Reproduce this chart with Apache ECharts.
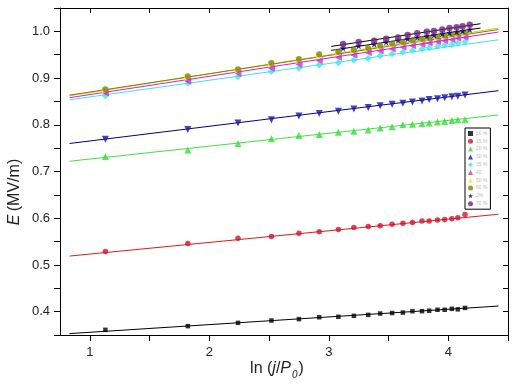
<!DOCTYPE html>
<html>
<head>
<meta charset="utf-8">
<script src="https://cdn.jsdelivr.net/npm/echarts@6/dist/echarts.min.js"></script>
<style>
html,body{margin:0;padding:0;background:#fff;}
#chart{width:516px;height:383px;}
</style>
</head>
<body>
<div id="chart"></div>
<script>
// ---- data ----
var xFull = [1.13, 1.82, 2.24, 2.52, 2.75, 2.92, 3.08, 3.21, 3.33, 3.43, 3.53, 3.62, 3.70, 3.78, 3.84, 3.91, 3.97, 4.03, 4.08, 4.14];
var xTop = [3.12, 3.25, 3.38, 3.48, 3.58, 3.66, 3.74, 3.82, 3.88, 3.95, 4.01, 4.07, 4.12, 4.18];

var sBlack   = [0.361, 0.369, 0.376, 0.381, 0.384, 0.388, 0.389, 0.391, 0.393, 0.396, 0.397, 0.398, 0.401, 0.401, 0.402, 0.404, 0.404, 0.406, 0.405, 0.408];
var sRed     = [0.529, 0.546, 0.557, 0.561, 0.568, 0.571, 0.576, 0.580, 0.582, 0.584, 0.587, 0.589, 0.591, 0.594, 0.594, 0.596, 0.597, 0.599, 0.601, 0.608];
var sGreen   = [0.732, 0.746, 0.760, 0.770, 0.777, 0.779, 0.784, 0.786, 0.789, 0.793, 0.796, 0.800, 0.801, 0.802, 0.804, 0.806, 0.807, 0.809, 0.811, 0.811];
var sBlue    = [0.769, 0.790, 0.804, 0.811, 0.819, 0.824, 0.829, 0.834, 0.837, 0.841, 0.844, 0.846, 0.849, 0.851, 0.854, 0.856, 0.858, 0.860, 0.861, 0.864];
var sCyan    = [0.862, 0.889, 0.903, 0.914, 0.921, 0.928, 0.933, 0.938, 0.942, 0.948, 0.952, 0.956, 0.959, 0.962, 0.965, 0.968, 0.970, 0.972, 0.975, 0.977];
var sMagenta = [0.868, 0.893, 0.910, 0.921, 0.929, 0.937, 0.944, 0.949, 0.954, 0.958, 0.962, 0.966, 0.969, 0.972, 0.975, 0.978, 0.980, 0.982, 0.985, 0.987];
var sYellow  = [0.874, 0.902, 0.917, 0.930, 0.939, 0.948, 0.954, 0.958, 0.962, 0.967, 0.971, 0.975, 0.979, 0.982, 0.984, 0.987, 0.989, 0.992, 0.994, 0.996];
var sOlive   = [0.876, 0.904, 0.919, 0.932, 0.941, 0.951, 0.956, 0.960, 0.964, 0.969, 0.974, 0.977, 0.981, 0.984, 0.986, 0.989, 0.991, 0.994, 0.996, 0.998];
var sNavy    = [0.964, 0.969, 0.973, 0.977, 0.981, 0.984, 0.987, 0.990, 0.992, 0.995, 0.997, 0.999, 1.001, 1.004];
var sPurple  = [0.973, 0.977, 0.980, 0.984, 0.987, 0.992, 0.996, 0.999, 1.001, 1.004, 1.007, 1.009, 1.011, 1.014];

// linear fits: [x start, x end] and [E start, E end]
var fitXFull = [0.83, 4.42];
var fitXTop = [3.02, 4.27];
var fitBlack   = [0.353, 0.412];
var fitRed     = [0.519, 0.6085];
var fitGreen   = [0.722, 0.821];
var fitBlue    = [0.760, 0.873];
var fitCyan    = [0.8535, 0.982];
var fitMagenta = [0.858, 0.9985];
var fitYellow  = [0.862, 1.007];
var fitOlive   = [0.8635, 1.004];
var fitNavy    = [0.9593, 1.0071];
var fitPurple  = [0.9678, 1.0164];

var legendNames = ['10 %', '15 %', '20 %', '30 %', '35 %', '40', '50 %', '60 %', '2%', '70 %'];

var xTickValues = [1, 1.5, 2, 2.5, 3, 3.5, 4, 4.5];
var xLabelValues = [1, 2, 3, 4];
var yTickValues = [0.35, 0.4, 0.45, 0.5, 0.55, 0.6, 0.65, 0.7, 0.75, 0.8, 0.85, 0.9, 0.95, 1.0, 1.05];
var yLabelValues = [0.4, 0.5, 0.6, 0.7, 0.8, 0.9, 1.0];

// ---- build ----
function pairs(xs, ys) { return ys.map(function (v, i) { return [xs[i], v]; }); }

var star = 'path://M0,-10 L2.35,-3.24 L9.51,-3.09 L3.8,1.24 L5.88,8.09 L0,4 L-5.88,8.09 L-3.8,1.24 L-9.51,-3.09 L-2.35,-3.24 Z';

var defs = [
  {name: legendNames[0], xs: xFull, ys: sBlack,   fx: fitXFull, fy: fitBlack,   color: '#000000', line: '#000000', symbol: 'rect', size: 4.5, rot: 0},
  {name: legendNames[1], xs: xFull, ys: sRed,     fx: fitXFull, fy: fitRed,     color: '#d8102a', line: '#e01a1a', symbol: 'circle', size: 5.5, rot: 0},
  {name: legendNames[2], xs: xFull, ys: sGreen,   fx: fitXFull, fy: fitGreen,   color: '#33dd33', line: '#44e044', symbol: 'triangle', size: 7, rot: 0},
  {name: legendNames[3], xs: xFull, ys: sBlue,    fx: fitXFull, fy: fitBlue,    color: '#1414a8', line: '#000090', symbol: 'triangle', size: 7, rot: 180},
  {name: legendNames[4], xs: xFull, ys: sCyan,    fx: fitXFull, fy: fitCyan,    color: '#3ae6f2', line: '#40e0ee', symbol: 'diamond', size: 7, rot: 0},
  {name: legendNames[5], xs: xFull, ys: sMagenta, fx: fitXFull, fy: fitMagenta, color: '#d02ad0', line: '#d020d0', symbol: 'triangle', size: 7, rot: 90},
  {name: legendNames[6], xs: xFull, ys: sYellow,  fx: fitXFull, fy: fitYellow,  color: '#f2f030', line: '#e8cc00', symbol: 'triangle', size: 7, rot: -90},
  {name: legendNames[7], xs: xFull, ys: sOlive,   fx: fitXFull, fy: fitOlive,   color: '#808010', line: '#808000', symbol: 'circle', size: 6, rot: 0},
  {name: legendNames[8], xs: xTop,  ys: sNavy,    fx: fitXTop,  fy: fitNavy,    color: '#000070', line: '#000000', symbol: star, size: 7, rot: 0},
  {name: legendNames[9], xs: xTop,  ys: sPurple,  fx: fitXTop,  fy: fitPurple,  color: '#702080', line: '#000000', symbol: 'circle', size: 6.5, rot: 0}
];

var series = [];
defs.forEach(function (d) {
  series.push({
    type: 'line', silent: true, symbol: 'none', z: 2,
    data: [[d.fx[0], d.fy[0]], [d.fx[1], d.fy[1]]],
    lineStyle: {color: d.line, width: 1},
    animation: false
  });
});
defs.forEach(function (d) {
  series.push({
    name: d.name, type: 'scatter', z: 3,
    data: pairs(d.xs, d.ys),
    symbol: d.symbol, symbolSize: d.size, symbolRotate: d.rot,
    itemStyle: {color: d.color},
    animation: false
  });
});

var font = 'Liberation Sans, Arial, sans-serif';

var option = {
  backgroundColor: '#ffffff',
  animation: false,
  grid: {left: 60, right: 8, top: 8, bottom: 48, containLabel: false},
  legend: {
    data: legendNames,
    orient: 'vertical',
    left: 465, top: 128,
    width: 27,
    padding: [3, 3, 3, 3],
    itemWidth: 5, itemHeight: 5, itemGap: 2.8,
    borderColor: '#000', borderWidth: 1,
    textStyle: {fontSize: 5, color: '#b8b8b8', fontFamily: font, padding: [0, 0, 0, -2]},
    selectedMode: false
  },
  xAxis: [
    {
      type: 'value', min: 0.75, max: 4.5, position: 'bottom',
      axisLine: {show: true, onZero: false, lineStyle: {color: '#000', width: 1}},
      axisTick: {show: true, inside: false, length: 6, customValues: xTickValues, lineStyle: {color: '#000'}},
      axisLabel: {show: true, customValues: xLabelValues, margin: 11, fontSize: 13, color: '#222', fontFamily: font,
                  formatter: function (v) { return String(Math.round(v)); }},
      splitLine: {show: false}
    },
    {
      type: 'value', min: 0.75, max: 4.5, position: 'top',
      axisLine: {show: true, onZero: false, lineStyle: {color: '#000', width: 1}},
      axisTick: {show: true, inside: true, length: 5, customValues: xTickValues, lineStyle: {color: '#000'}},
      axisLabel: {show: false},
      splitLine: {show: false}
    }
  ],
  yAxis: [
    {
      type: 'value', min: 0.35, max: 1.05, position: 'left',
      axisLine: {show: true, onZero: false, lineStyle: {color: '#000', width: 1}},
      axisTick: {show: true, inside: false, length: 6, customValues: yTickValues, lineStyle: {color: '#000'}},
      axisLabel: {show: true, customValues: yLabelValues, margin: 10, fontSize: 13, color: '#222', fontFamily: font,
                  formatter: function (v) { return v.toFixed(1); }},
      splitLine: {show: false}
    },
    {
      type: 'value', min: 0.35, max: 1.05, position: 'right',
      axisLine: {show: true, onZero: false, lineStyle: {color: '#000', width: 1}},
      axisTick: {show: true, inside: true, length: 5, customValues: yTickValues, lineStyle: {color: '#000'}},
      axisLabel: {show: false},
      splitLine: {show: false}
    }
  ],
  graphic: [
    {
      type: 'text', x: 15, y: 192, rotation: Math.PI / 2, z: 10,
      style: {
        text: '{i|E} {n|(MV/m)}',
        align: 'center', verticalAlign: 'middle',
        fill: '#222',
        rich: {
          i: {fontStyle: 'italic', fontSize: 16, fontFamily: font, fill: '#222'},
          n: {fontSize: 16, fontFamily: font, fill: '#222'}
        }
      }
    },
    {
      type: 'text', x: 277, y: 369, z: 10,
      style: {
        text: '{n|ln (}{i|j}{n|/}{i|P}{s|0}{n|)}',
        align: 'center', verticalAlign: 'middle',
        fill: '#222',
        rich: {
          n: {fontSize: 16, fontFamily: font, fill: '#222', verticalAlign: 'middle'},
          i: {fontSize: 16, fontFamily: font, fontStyle: 'italic', fill: '#222', verticalAlign: 'middle'},
          s: {fontSize: 10, fontFamily: font, fontStyle: 'italic', fill: '#222', verticalAlign: 'bottom', padding: [12, 1, 0, 1]}
        }
      }
    }
  ],
  series: series
};

var chart = echarts.init(document.getElementById('chart'), null, {renderer: 'canvas'});
chart.setOption(option);
</script>
</body>
</html>
